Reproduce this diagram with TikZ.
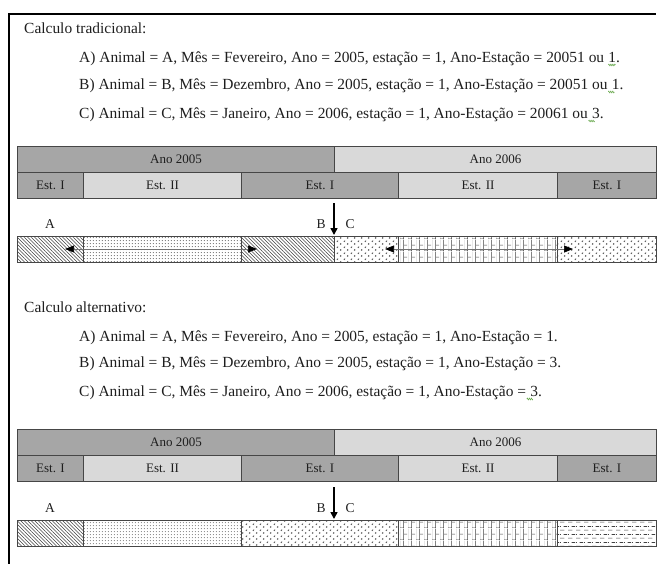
\documentclass[tikz,border=0pt]{standalone}
\usepackage{fontspec}
\setmainfont{Liberation Serif}
\usetikzlibrary{patterns,arrows.meta,decorations.pathmorphing}

\definecolor{cellDark}{RGB}{166,166,166}
\definecolor{cellLight}{RGB}{217,217,217}
\definecolor{rule}{RGB}{70,70,70}
\definecolor{ink}{RGB}{30,30,30}
\definecolor{spell}{RGB}{90,160,60}

% short back-slanted strokes
\pgfdeclarepatternformonly{diaghatch}{\pgfpoint{-1pt}{-1pt}}{\pgfpoint{4.5pt}{4.5pt}}{\pgfpoint{3.5pt}{3.5pt}}{%
  \pgfsetlinewidth{0.45pt}%
  \pgfpathmoveto{\pgfpoint{0pt}{3.5pt}}\pgfpathlineto{\pgfpoint{3.5pt}{0pt}}%
  \pgfusepath{stroke}}
% fine dot grid
\pgfdeclarepatternformonly{dotgrid}{\pgfpointorigin}{\pgfpoint{3.2pt}{3.2pt}}{\pgfpoint{3.2pt}{3.2pt}}{%
  \pgfpathcircle{\pgfpoint{1.6pt}{1.6pt}}{0.6pt}%
  \pgfusepath{fill}}
% small scattered chevrons
\pgfdeclarepatternformonly{chevrons}{\pgfpointorigin}{\pgfpoint{7pt}{6pt}}{\pgfpoint{7pt}{6pt}}{%
  \pgfsetlinewidth{0.45pt}%
  \pgfpathmoveto{\pgfpoint{2.4pt}{5pt}}\pgfpathlineto{\pgfpoint{1pt}{4.2pt}}\pgfpathlineto{\pgfpoint{2.4pt}{3.4pt}}%
  \pgfpathmoveto{\pgfpoint{4.6pt}{2pt}}\pgfpathlineto{\pgfpoint{6pt}{1.2pt}}\pgfpathlineto{\pgfpoint{4.6pt}{0.4pt}}%
  \pgfusepath{stroke}}
% vertical bricks
\pgfdeclarepatternformonly{vbricks}{\pgfpointorigin}{\pgfpoint{8pt}{12pt}}{\pgfpoint{8pt}{12pt}}{%
  \pgfsetlinewidth{0.5pt}%
  \pgfpathmoveto{\pgfpoint{0pt}{0pt}}\pgfpathlineto{\pgfpoint{0pt}{12pt}}%
  \pgfpathmoveto{\pgfpoint{4pt}{0pt}}\pgfpathlineto{\pgfpoint{4pt}{12pt}}%
  \pgfpathmoveto{\pgfpoint{0pt}{0.25pt}}\pgfpathlineto{\pgfpoint{4pt}{0.25pt}}%
  \pgfpathmoveto{\pgfpoint{4pt}{6.25pt}}\pgfpathlineto{\pgfpoint{8pt}{6.25pt}}%
  \pgfusepath{stroke}}
% dashed horizontal lines
\pgfdeclarepatternformonly{hdashes}{\pgfpointorigin}{\pgfpoint{8pt}{8pt}}{\pgfpoint{8pt}{8pt}}{%
  \pgfsetlinewidth{0.55pt}%
  \pgfpathmoveto{\pgfpoint{0pt}{2pt}}\pgfpathlineto{\pgfpoint{5pt}{2pt}}%
  \pgfpathmoveto{\pgfpoint{4pt}{6pt}}\pgfpathlineto{\pgfpoint{8pt}{6pt}}%
  \pgfpathmoveto{\pgfpoint{0pt}{6pt}}\pgfpathlineto{\pgfpoint{1pt}{6pt}}%
  \pgfusepath{stroke}}

\tikzset{
  maintext/.style={anchor=base west, inner sep=0pt, text=ink, font=\fontsize{15.45}{18}\selectfont},
  cellbox/.style={draw=rule, line width=1pt, inner sep=0pt, anchor=north west,
    minimum height=26pt, text=ink, font=\fontsize{13}{15}\selectfont},
  barseg/.style={draw=rule, line width=0.8pt, inner sep=0pt, anchor=north west,
    minimum height=26pt, pattern color=black!75},
  lbl/.style={inner sep=0pt, text=ink, font=\fontsize{13.5}{15}\selectfont},
  downarrow/.style={line width=1.6pt, -{Triangle[length=7pt,width=7pt]}},
  spanarrow/.style={draw=black!55, line width=0.7pt,
    {Triangle[length=9pt,width=7pt,color=black]}-{Triangle[length=9pt,width=7pt,color=black]}},
  spellmark/.style={draw=spell, line width=0.5pt,
    decorate, decoration={zigzag, segment length=2pt, amplitude=0.9pt}}
}

\begin{document}
\begin{tikzpicture}[x=1pt,y=-1pt]
\useasboundingbox (0,0) rectangle (659,563);

% frame
\draw[line width=2pt] (9,564) -- (9,14) -- (656,14);

% ---------- traditional calculation ----------
\node[maintext] (t0) at (24,33) {Calculo tradicional:};
\node[maintext] (t1) at (79,62) {A) Animal = A, Mês = Fevereiro, Ano = 2005, estação = 1, Ano-Estação = 20051 ou};
\node[maintext] (t1e) at (t1.base east) {\ 1.};
\node[maintext] (t2) at (79,89) {B) Animal = B, Mês = Dezembro, Ano = 2005, estação = 1, Ano-Estação = 20051 ou};
\node[maintext] (t2e) at (t2.base east) {\ 1.};
\node[maintext] (t3) at (79,118) {C) Animal = C, Mês = Janeiro, Ano = 2006, estação = 1, Ano-Estação = 20061 ou};
\node[maintext] (t3e) at (t3.base east) {\ 3.};
\draw[spellmark] ([xshift=4pt,yshift=-3pt]t1.base east) -- ++(7,0);
\draw[spellmark] ([xshift=0.5pt,yshift=-3pt]t2.base east) -- ++(6,0);
\draw[spellmark] ([xshift=0.5pt,yshift=-3pt]t3.base east) -- ++(6,0);

% ---------- year / season tables ----------
\foreach \top/\s in {146/a, 429/b}{
  \node[cellbox, fill=cellDark,  minimum width=317pt] (y05\s) at (17,\top) {Ano 2005};
  \node[cellbox, fill=cellLight, minimum width=322pt] (y06\s) at (334,\top) {Ano 2006};
  \node[cellbox, fill=cellDark,  minimum width=66pt]  (e1\s) at (17,\top+26) {Est. I};
  \node[cellbox, fill=cellLight, minimum width=158pt] (e2\s) at (83,\top+26) {Est. II};
  \node[cellbox, fill=cellDark,  minimum width=157pt] (e3\s) at (241,\top+26) {Est. I};
  \node[cellbox, fill=cellLight, minimum width=159pt] (e4\s) at (398,\top+26) {Est. II};
  \node[cellbox, fill=cellDark,  minimum width=99pt]  (e5\s) at (557,\top+26) {Est. I};
}

% ---------- traditional bar ----------
\node[barseg, pattern=diaghatch, minimum width=66pt]  (ba1) at (17,236) {};
\node[barseg, pattern=dotgrid,   minimum width=158pt] (ba2) at (83,236) {};
\node[barseg, pattern=diaghatch, minimum width=93pt]  (ba3) at (241,236) {};
\node[barseg, pattern=chevrons,  minimum width=64pt]  (ba4) at (334,236) {};
\node[barseg, pattern=vbricks,   minimum width=159pt] (ba5) at (398,236) {};
\node[barseg, pattern=chevrons,  minimum width=99pt]  (ba6) at (557,236) {};

\coordinate (sa1) at (65,249);
\coordinate (sa2) at (257,249);
\coordinate (sb1) at (385,249);
\coordinate (sb2) at (573,249);
\draw[spanarrow] (sa1) -- (sa2);
\draw[spanarrow] (sb1) -- (sb2);

\coordinate (da0) at (334,203);
\coordinate (da1) at (334,235);
\draw[downarrow] (da0) -- (da1);
\node[lbl] (la) at (50,224) {A};
\node[lbl] (lb) at (321,224) {B};
\node[lbl] (lc) at (350,224) {C};

% ---------- alternative calculation ----------
\node[maintext] (u0) at (24,312) {Calculo alternativo:};
\node[maintext] (u1) at (79,341) {A) Animal = A, Mês = Fevereiro, Ano = 2005, estação = 1, Ano-Estação = 1.};
\node[maintext] (u2) at (79,367) {B) Animal = B, Mês = Dezembro, Ano = 2005, estação = 1, Ano-Estação = 3.};
\node[maintext] (u3) at (79,396) {C) Animal = C, Mês = Janeiro, Ano = 2006, estação = 1, Ano-Estação =};
\node[maintext] (u3e) at (u3.base east) {\ 3.};
\draw[spellmark] ([xshift=0.5pt,yshift=-3pt]u3.base east) -- ++(6,0);

% ---------- alternative bar ----------
\node[barseg, pattern=diaghatch, minimum width=66pt]  (bb1) at (17,520) {};
\node[barseg, pattern=dotgrid,   minimum width=158pt] (bb2) at (83,520) {};
\node[barseg, pattern=chevrons,  minimum width=157pt] (bb3) at (241,520) {};
\node[barseg, pattern=vbricks,   minimum width=159pt] (bb4) at (398,520) {};
\node[barseg, pattern=hdashes,   minimum width=99pt]  (bb5) at (557,520) {};

\coordinate (db0) at (334,487);
\coordinate (db1) at (334,519);
\draw[downarrow] (db0) -- (db1);
\node[lbl] (ma) at (50,508) {A};
\node[lbl] (mb) at (321,508) {B};
\node[lbl] (mc) at (350,508) {C};
\end{tikzpicture}
\end{document}
